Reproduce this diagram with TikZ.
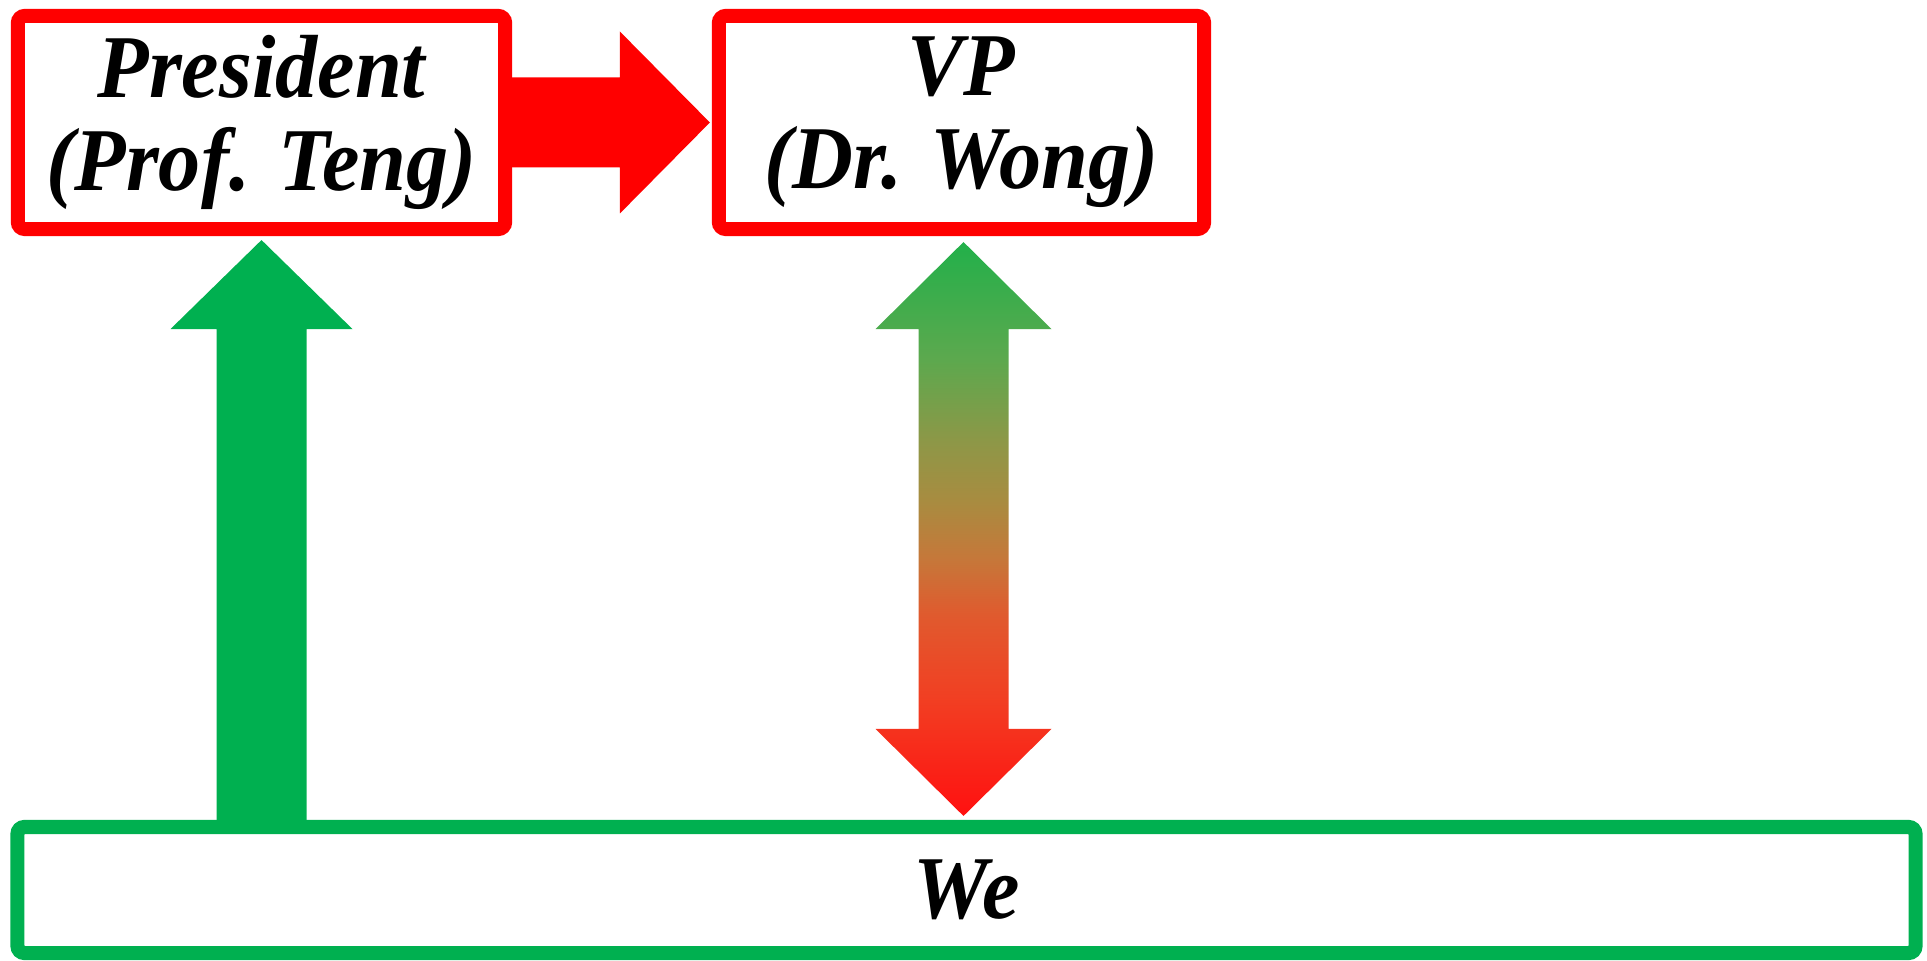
\documentclass[tikz,border=0pt]{standalone}
\usepackage{fontspec}
\setmainfont{Liberation Serif}
\newfontfamily\boxfont{Liberation Serif Bold Italic}[FakeStretch=0.94]
\usetikzlibrary{calc}
\definecolor{boxred}{RGB}{255,0,0}
\definecolor{boxgreen}{RGB}{0,176,80}
\pgfdeclareverticalshading{vpwe}{100bp}{color(0bp)=(rgb,255:red,255;green,16;blue,16);
    color(25bp)=(rgb,255:red,255;green,16;blue,16); color(35bp)=(rgb,255:red,242;green,62;blue,34);
    color(42.5bp)=(rgb,255:red,224;green,90;blue,46); color(47.5bp)=(rgb,255:red,197;green,120;blue,58);
    color(52.5bp)=(rgb,255:red,168;green,140;blue,64); color(57.5bp)=(rgb,255:red,142;green,151;blue,71);
    color(65bp)=(rgb,255:red,91;green,169;blue,78); color(75bp)=(rgb,255:red,34;green,176;blue,74);
    color(100bp)=(rgb,255:red,34;green,176;blue,74)}

\begin{document}
\begin{tikzpicture}[x=0.01cm,y=-0.01cm,
    box/.style={draw,line width=4pt,rounded corners=2pt,fill=white,outer sep=0pt,inner sep=0pt,align=center,
        font=\boxfont\fontsize{25.5}{26.5}\selectfont}]
    \useasboundingbox (0,0) rectangle (1927,961);

    % boxes
    \node[box,draw=boxred,minimum width=4.87cm,minimum height=2.13cm] (pres) at (261.5,122.5) {President\\(Prof. Teng)};
    \node[box,draw=boxred,minimum width=4.85cm,minimum height=2.13cm] (vp) at (961.5,122.5) {VP\\(Dr. Wong)};
    \node[box,draw=boxgreen,minimum width=18.97cm,minimum height=1.26cm] (we) at (966.5,890) {We};

    % president -> vp
    \fill[boxred] ($(pres.east)+(0,-45)$) -- ($(vp.west)+(-99,-45)$) -- ($(vp.west)+(-99,-91)$)
        -- ($(vp.west)+(-9,0)$) -- ($(vp.west)+(-99,91)$) -- ($(vp.west)+(-99,45)$) -- ($(pres.east)+(0,45)$) -- cycle;

    % we -> president
    \fill[boxgreen] ($(pres.south |- we.north)+(-45,0)$) -- ($(pres.south)+(-45,100)$) -- ($(pres.south)+(-91,100)$)
        -- ($(pres.south)+(0,11)$) -- ($(pres.south)+(91,100)$) -- ($(pres.south)+(45,100)$) -- ($(pres.south |- we.north)+(45,0)$) -- cycle;

    % vp <-> we
    \shade[shading=vpwe]
        ($(vp.south)+(2,13)$) -- ($(vp.south)+(90,100)$) -- ($(vp.south)+(47,100)$)
        -- ($(vp.south |- we.north)+(47,-98)$) -- ($(vp.south |- we.north)+(90,-98)$) -- ($(vp.south |- we.north)+(2,-11)$)
        -- ($(vp.south |- we.north)+(-86,-98)$) -- ($(vp.south |- we.north)+(-43,-98)$)
        -- ($(vp.south)+(-43,100)$) -- ($(vp.south)+(-86,100)$) -- cycle;
\end{tikzpicture}
\end{document}
